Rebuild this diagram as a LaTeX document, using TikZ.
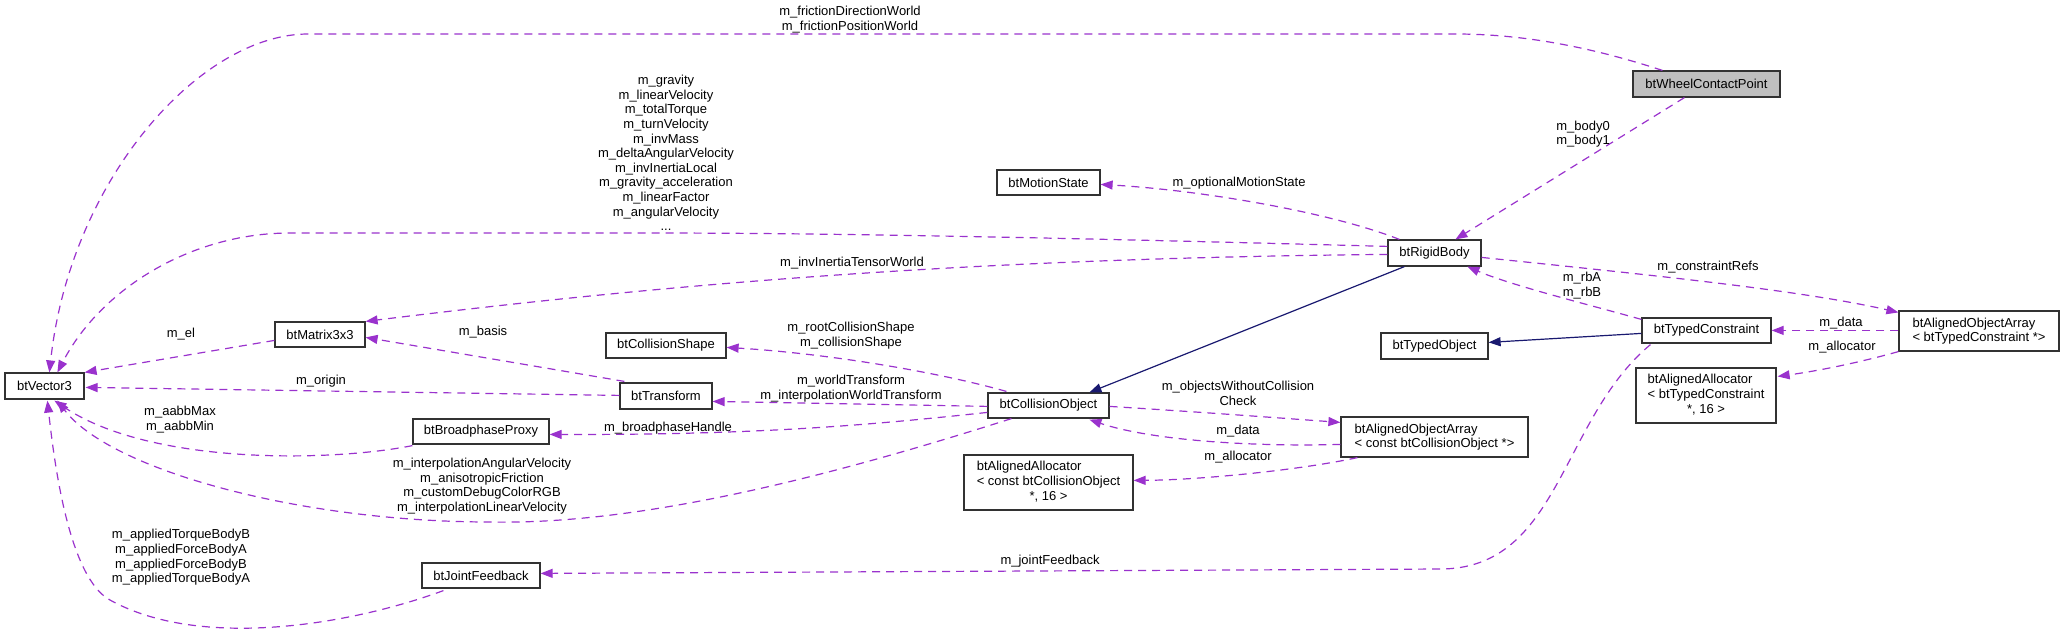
\documentclass[tikz,border=0pt]{standalone}
\usepackage{fontspec}
\setmainfont{Liberation Sans}
\usetikzlibrary{arrows.meta,calc}
\definecolor{purp}{RGB}{154,50,205}
\definecolor{navyb}{RGB}{25,25,112}
\definecolor{boxline}{RGB}{50,50,50}
\definecolor{grayfill}{RGB}{191,191,191}
\begin{document}
\begin{tikzpicture}[x=0.5pt,y=-0.5pt,
  every node/.style={font=\fontsize{6.5}{7.3}\selectfont},
  box/.style={draw=boxline, fill=white, line width=0.6pt, inner sep=0pt, align=center},
  lbl/.style={inner sep=0pt, align=center},
  dep/.style={draw=purp, line width=0.6pt, dash pattern=on 4pt off 3pt, -{Triangle[length=6pt,width=4.5pt]}},
  inh/.style={draw=navyb, line width=0.6pt, -{Triangle[length=6pt,width=4.5pt]}}]
\useasboundingbox (0,0) rectangle (2064,634);

% classes
\node[box, fill=grayfill, minimum width=73.5pt, minimum height=13pt] (wcp) at (1706.5,84) {btWheelContactPoint};
\node[box, minimum width=51.5pt, minimum height=12.5pt] (ms) at (1048.5,182.5) {btMotionState};
\node[box, minimum width=46.5pt, minimum height=13pt] (rb) at (1434.5,253) {btRigidBody};
\node[box, minimum width=45pt, minimum height=12.5pt] (m33) at (320,334.5) {btMatrix3x3};
\node[box, minimum width=39.5pt, minimum height=13pt] (v3) at (44.5,386) {btVector3};
\node[box, minimum width=60pt, minimum height=12.5pt] (cs) at (666,345.5) {btCollisionShape};
\node[box, minimum width=46pt, minimum height=13pt] (tr) at (666,396) {btTransform};
\node[box, minimum width=68pt, minimum height=12.5pt] (bp) at (481,431.5) {btBroadphaseProxy};
\node[box, minimum width=59pt, minimum height=12.5pt] (jf) at (481,575.5) {btJointFeedback};
\node[box, minimum width=60.5pt, minimum height=12.5pt] (co) at (1048.5,405.5) {btCollisionObject};
\node[box, minimum width=84.5pt, minimum height=27.5pt] (alco) at (1048.5,482.5) {\begin{tabular}{@{}l@{}}btAlignedAllocator\\< const btCollisionObject\\\multicolumn{1}{@{}c@{}}{*, 16 >}\end{tabular}};
\node[box, minimum width=93.5pt, minimum height=20pt, align=left] (aoaco) at (1434.5,437) {btAlignedObjectArray\\< const btCollisionObject *>};
\node[box, minimum width=53.5pt, minimum height=13pt] (to) at (1434.5,346) {btTypedObject};
\node[box, minimum width=64.5pt, minimum height=12.5pt] (tc) at (1706.5,330.5) {btTypedConstraint};
\node[box, minimum width=80pt, minimum height=20pt, align=left] (aoatc) at (1979,331) {btAlignedObjectArray\\< btTypedConstraint *>};
\node[box, minimum width=70pt, minimum height=27.5pt] (altc) at (1706,395.5) {\begin{tabular}{@{}l@{}}btAlignedAllocator\\< btTypedConstraint\\\multicolumn{1}{@{}c@{}}{*, 16 >}\end{tabular}};

% connectors
\draw[dep] ($(wcp.north west)+(30,0)$) .. controls (1600,50) and (1530,34) .. (1456,34) -- (308,34) .. controls (200,34) and (70,180) .. ($(v3.north west)+(45,0)$);
\draw[dep] ($(rb.north west)+(0,7)$) .. controls (1000,236) and (800,233) .. (650,233) -- (290,233) .. controls (190,233) and (100,290) .. ($(v3.north west)+(53,0)$);
\draw[dep] ($(rb.north west)+(0,15)$) .. controls (1000,258) and (700,280) .. (m33.north east);
\draw[dep] ($(rb.north west)+(12,0)$) .. controls (1330,212) and (1200,190) .. ($(ms.north east)+(0,15)$);
\draw[dep] ($(wcp.south west)+(52,0)$) -- ($(rb.north west)+(68,0)$);
\draw[dep] ($(rb.north east)+(0,18)$) .. controls (1650,275) and (1800,290) .. ($(aoatc.north west)+(0,2)$);
\draw[dep] ($(tc.north west)+(0,2)$) .. controls (1590,305) and (1510,285) .. ($(rb.south west)+(80,0)$);
\draw[inh] ($(rb.south west)+(17,0)$) -- ($(co.north west)+(102,0)$);
\draw[inh] ($(tc.north west)+(0,16)$) -- ($(to.north east)+(0,10)$);
\draw[dep] ($(aoatc.north west)+(0,20)$) -- ($(tc.north east)+(0,13)$);
\draw[dep] (aoatc.south west) .. controls (1850,365) and (1810,372) .. ($(altc.north east)+(1,9)$);
\draw[dep] ($(tc.south west)+(9,1)$) .. controls (1560,420) and (1560,569) .. (1440,569) -- ($(jf.north east)+(0,11)$);
\draw[dep] ($(co.north west)+(19,-1)$) .. controls (930,370) and (820,353) .. ($(cs.north east)+(0,15)$);
\draw[dep] ($(co.north west)+(0,14)$) -- ($(tr.north east)+(0,19)$);
\draw[dep] ($(co.north west)+(0,20)$) .. controls (870,425) and (760,435) .. ($(bp.north east)+(0,16)$);
\draw[dep] ($(co.south west)+(24,0)$) .. controls (850,470) and (650,525) .. (491,522) .. controls (300,522) and (110,470) .. ($(v3.south west)+(53,1)$);
\draw[dep] ($(bp.south west)+(0,1)$) .. controls (330,462) and (150,465) .. ($(v3.south west)+(50,1)$);
\draw[dep] ($(jf.south west)+(22,2)$) .. controls (350,625) and (200,650) .. (110,600) .. controls (70,578) and (55,470) .. ($(v3.south west)+(43,1)$);
\draw[dep] ($(co.north east)+(0,14)$) .. controls (1200,412) and (1280,418) .. ($(aoaco.north west)+(0,6)$);
\draw[dep] ($(aoaco.north west)+(0,28)$) .. controls (1250,447) and (1150,440) .. ($(co.south west)+(102,1)$);
\draw[dep] ($(aoaco.south west)+(17,0)$) .. controls (1300,470) and (1200,480) .. ($(alco.north east)+(0,26)$);
\draw[dep] ($(tr.north west)+(5,-1)$) -- ($(m33.north east)+(0,16)$);
\draw[dep] ($(m33.north west)+(0,19)$) -- (v3.north east);
\draw[dep] ($(tr.north west)+(0,13)$) -- ($(v3.north east)+(1,15)$);

% labels
\node[lbl] (lfric) at (850,19.5) {m\_frictionDirectionWorld\\m\_frictionPositionWorld};
\node[lbl] (lgrav) at (666,153) {m\_gravity\\m\_linearVelocity\\m\_totalTorque\\m\_turnVelocity\\m\_invMass\\m\_deltaAngularVelocity\\m\_invInertiaLocal\\m\_gravity\_acceleration\\m\_linearFactor\\m\_angularVelocity\\...};
\node[lbl] (lbody) at (1583,134) {m\_body0\\m\_body1};
\node[lbl] (lms) at (1239,183) {m\_optionalMotionState};
\node[lbl] (linv) at (852,263) {m\_invInertiaTensorWorld};
\node[lbl] (lcr) at (1708,267) {m\_constraintRefs};
\node[lbl] (lrb) at (1582,285.5) {m\_rbA\\m\_rbB};
\node[lbl] (ldata1) at (1841,323) {m\_data};
\node[lbl] (lalloc1) at (1842,347) {m\_allocator};
\node[lbl] (lel) at (181,334) {m\_el};
\node[lbl] (lbasis) at (483,332) {m\_basis};
\node[lbl] (lcs) at (851,335.5) {m\_rootCollisionShape\\m\_collisionShape};
\node[lbl] (lorig) at (321,381) {m\_origin};
\node[lbl] (lwt) at (851,388.5) {m\_worldTransform\\m\_interpolationWorldTransform};
\node[lbl] (lowc) at (1238,393.5) {m\_objectsWithoutCollision\\Check};
\node[lbl] (laabb) at (180,419.5) {m\_aabbMax\\m\_aabbMin};
\node[lbl] (lbph) at (668,428) {m\_broadphaseHandle};
\node[lbl] (ldata2) at (1238,431) {m\_data};
\node[lbl] (lalloc2) at (1238,457) {m\_allocator};
\node[lbl] (linterp) at (482,486) {m\_interpolationAngularVelocity\\m\_anisotropicFriction\\m\_customDebugColorRGB\\m\_interpolationLinearVelocity};
\node[lbl] (lapp) at (181,557.5) {m\_appliedTorqueBodyB\\m\_appliedForceBodyA\\m\_appliedForceBodyB\\m\_appliedTorqueBodyA};
\node[lbl] (ljf) at (1050,561) {m\_jointFeedback};
\end{tikzpicture}
\end{document}
